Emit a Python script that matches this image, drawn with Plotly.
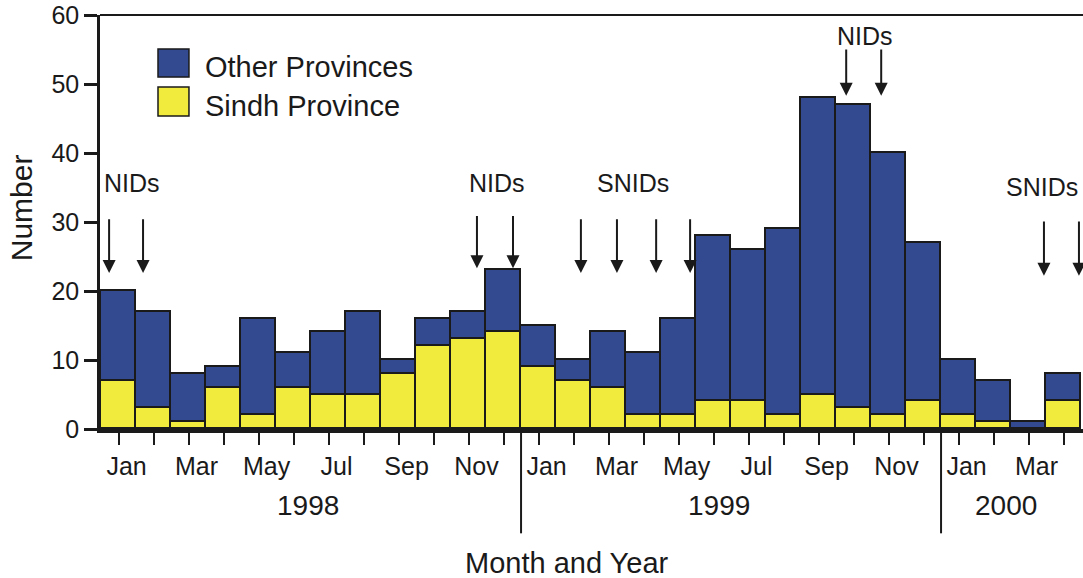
import plotly.graph_objects as go

months = ["Jan","Feb","Mar","Apr","May","Jun","Jul","Aug","Sep","Oct","Nov","Dec",
          "Jan","Feb","Mar","Apr","May","Jun","Jul","Aug","Sep","Oct","Nov","Dec",
          "Jan","Feb","Mar","Apr"]
sindh = [7,3,1,6,2,6,5,5,8,12,13,14, 9,7,6,2,2,4,4,2,5,3,2,4, 2,1,0,4]
other = [13,14,7,3,14,5,9,12,2,4,4,9, 6,3,8,9,14,24,22,27,43,44,38,23, 8,6,1,4]
years = ["1998","1999","2000"]
year_centers = [5.41, 17.15, 25.35]
year_dividers = [11.5, 23.5]

# campaign markers (month-index positions)
campaign_labels = ["NIDs","NIDs","SNIDs","NIDs","SNIDs"]
campaign_label_x = [0.39, 10.81, 14.7, 21.33, 26.39]
campaign_label_y = [35.6, 35.6, 35.6, 56.9, 35.1]
campaign_arrows = [[-0.27, 0.70], [10.24, 11.27], [13.21, 14.24, 15.36, 16.33], [20.79, 21.79], [26.44, 27.44]]
arrow_tail = [30.6, 31.1, 30.6, 55.2, 30.3]
arrow_head = [22.6, 23.3, 22.6, 48.3, 22.2]

BLUE = "#344a90"
YELLOW = "#f0eb3c"
INK = "#1a1a1a"
FONT = "Liberation Sans, Arial, sans-serif"

x = list(range(len(months)))
fig = go.Figure()
fig.add_trace(go.Bar(x=x, y=sindh, name="Sindh Province", width=1,
                     marker=dict(color=YELLOW, line=dict(color=INK, width=1.8))))
fig.add_trace(go.Bar(x=x, y=other, name="Other Provinces", width=1,
                     marker=dict(color=BLUE, line=dict(color=INK, width=1.8))))

ticktext = [m if i % 2 == 0 else "" for i, m in enumerate(months)]

fig.update_layout(
    barmode="stack", bargap=0,
    width=1083, height=578,
    margin=dict(l=100, r=0, t=15, b=149),
    paper_bgcolor="white", plot_bgcolor="white",
    showlegend=False,
    font=dict(family=FONT, color=INK),
    xaxis=dict(range=[-0.53, -0.53 + 983/35], tickmode="array", tickvals=x, ticktext=ticktext,
               ticks="outside", ticklen=12, tickwidth=2, tickcolor=INK,
               showline=True, linewidth=3.5, linecolor=INK, showgrid=False, zeroline=False,
               tickfont=dict(size=25, color=INK), ticklabelshift=8),
    yaxis=dict(range=[0, 60], tickvals=[0,10,20,30,40,50,60],
               ticks="outside", ticklen=13, tickwidth=2.5, tickcolor=INK,
               showline=True, linewidth=2.5, linecolor=INK, showgrid=False, zeroline=False,
               tickfont=dict(size=25, color=INK)),
)

shapes = []
annotations = []
# top border
shapes.append(dict(type="line", xref="paper", yref="paper", x0=0, x1=1, y0=1, y1=1,
                   line=dict(color=INK, width=2)))
# year dividers
for d in year_dividers:
    shapes.append(dict(type="line", xref="x", yref="paper", x0=d, x1=d, y0=0, y1=-0.252,
                       line=dict(color=INK, width=2)))
for yl, yc in zip(years, year_centers):
    annotations.append(dict(x=yc, y=-0.185, xref="x", yref="paper", text=yl, showarrow=False,
                            font=dict(size=28, color=INK), xanchor="center", yanchor="middle"))
# legend
legend_items = [("Other Provinces", BLUE, 0.850, 0.918, 0.874),
                ("Sindh Province", YELLOW, 0.756, 0.826, 0.780)]
for name, col, y0, y1, ty in legend_items:
    shapes.append(dict(type="rect", xref="paper", yref="paper", x0=0.059, x1=0.0905, y0=y0, y1=y1,
                       fillcolor=col, line=dict(color=INK, width=1.5)))
    annotations.append(dict(x=0.1048, y=ty, xref="paper", yref="paper", text=name, showarrow=False,
                            xanchor="left", yanchor="middle", font=dict(size=29, color=INK)))
# campaign markers
for lab, lx, ly, arrs, t, h in zip(campaign_labels, campaign_label_x, campaign_label_y,
                                   campaign_arrows, arrow_tail, arrow_head):
    annotations.append(dict(x=lx, y=ly, xref="x", yref="y", text=lab, showarrow=False,
                            font=dict(size=25, color=INK), xanchor="center", yanchor="middle"))
    for ax_ in arrs:
        annotations.append(dict(x=ax_, y=h, ax=ax_, ay=t, xref="x", yref="y", axref="x", ayref="y",
                                text="", showarrow=True, arrowhead=2, arrowsize=1.3,
                                arrowwidth=2, arrowcolor=INK))
# axis titles
annotations.append(dict(x=12.81, y=-0.324, xref="x", yref="paper", text="Month and Year",
                        showarrow=False, font=dict(size=29, color=INK), xanchor="center", yanchor="middle"))
annotations.append(dict(x=-0.079, y=0.534, xref="paper", yref="paper", text="Number", textangle=-90,
                        showarrow=False, font=dict(size=30, color=INK), xanchor="center", yanchor="middle"))

fig.update_layout(shapes=shapes, annotations=annotations)
fig.write_html("out.html", config={"displayModeBar": False},
               post_script="document.body.style.margin='0';")
